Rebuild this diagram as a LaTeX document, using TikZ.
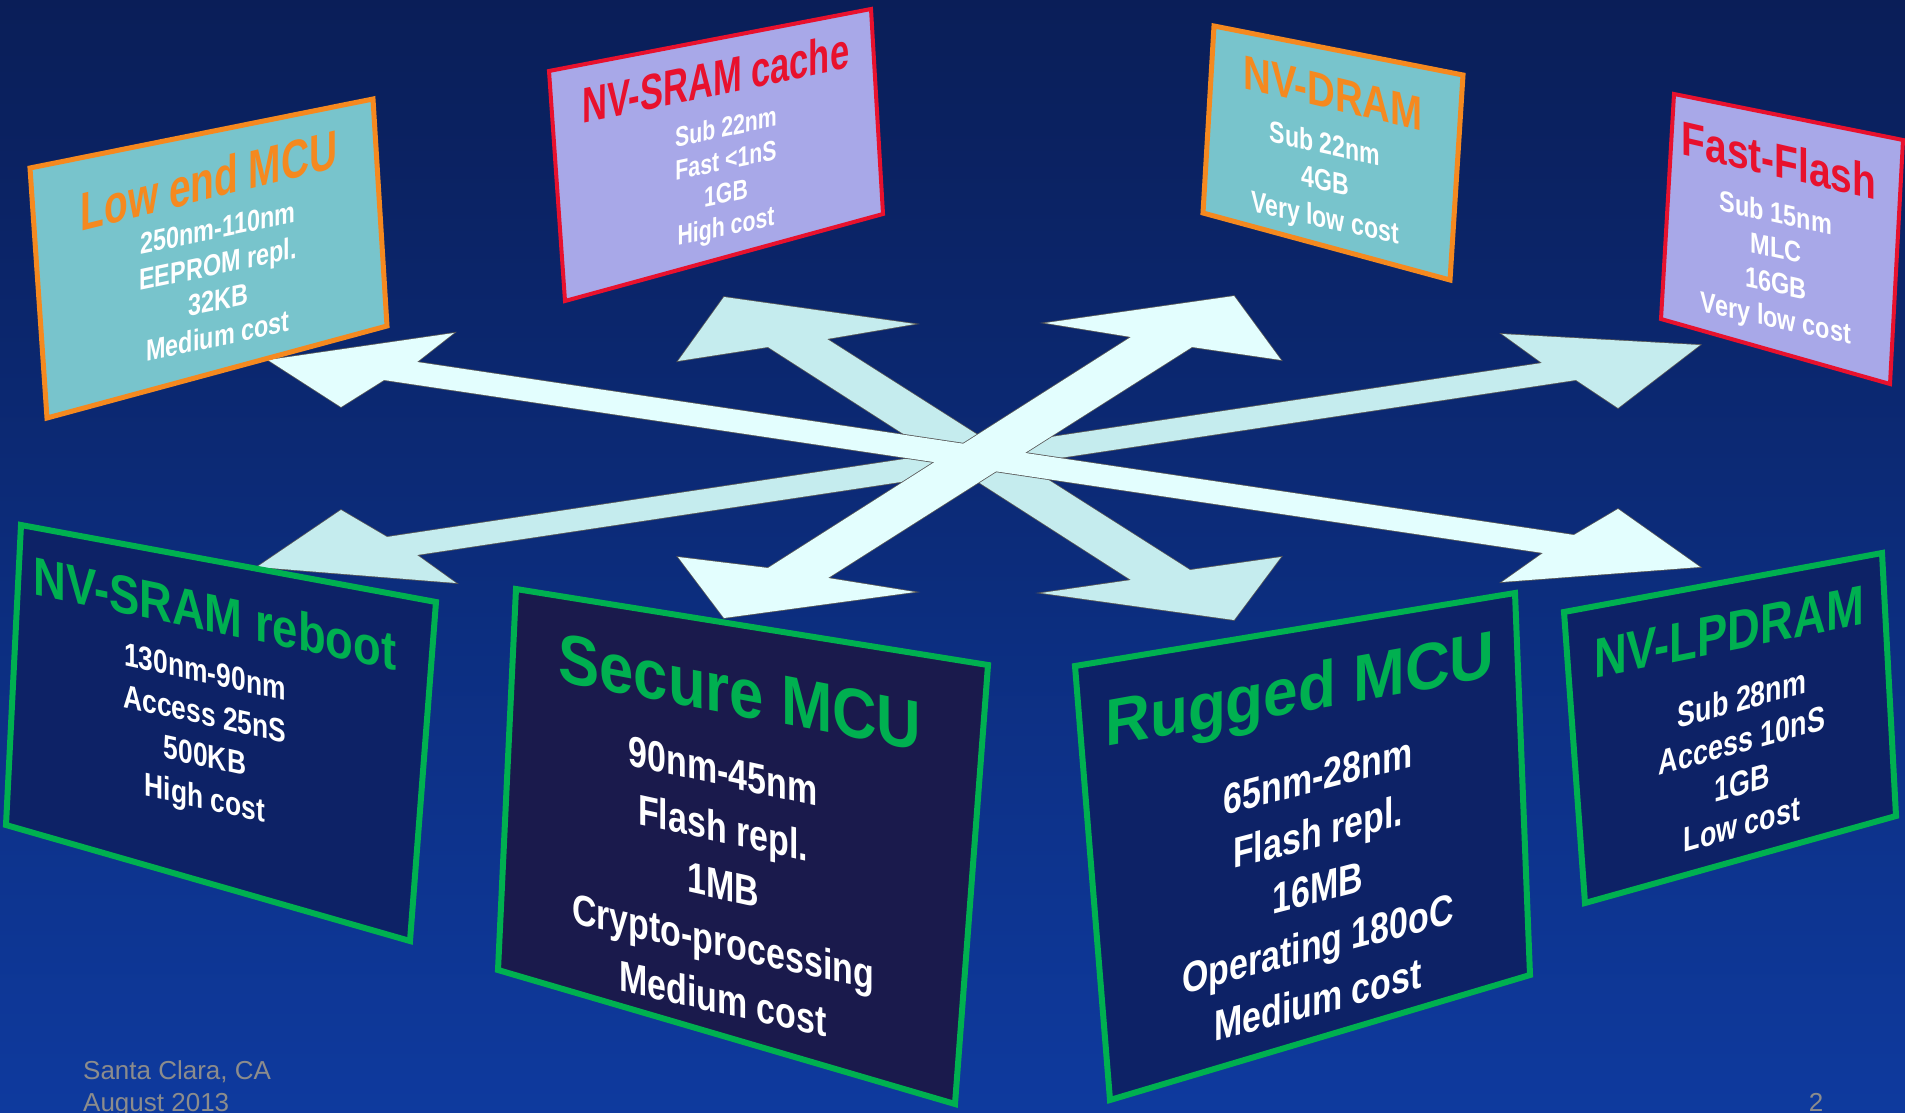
\documentclass[tikz,border=0pt]{standalone}
\usepackage{fontspec}
\setmainfont{Liberation Sans}
\definecolor{bgtop}{HTML}{0A1E58}
\definecolor{bgbot}{HTML}{0E3A9E}
\definecolor{tealf}{HTML}{78C4CC}
\definecolor{lavf}{HTML}{A8A8E8}
\definecolor{orng}{HTML}{F5891F}
\definecolor{redc}{HTML}{E8112D}
\definecolor{grn}{HTML}{00B050}
\definecolor{navyA}{HTML}{0D2266}
\definecolor{navyB}{HTML}{1A1A4C}
\definecolor{arrA}{HTML}{E3FEFE}
\definecolor{arrB}{HTML}{C5ECEE}
\definecolor{gry}{HTML}{8C8C8C}
% name, position, slant, xscale, style, text
\newcommand\sltxt[6]{%
  \node[#5,yslant=#3,xscale=#4] (#1) at (#2) {#6};}
\begin{document}
\begin{tikzpicture}[x=1pt,y=-1pt,line join=miter,
  ttl/.style 2 args={font=\fontsize{#1}{#1}\selectfont\bfseries,text=#2,inner sep=0pt,align=center},
  bdy/.style 2 args={font=\fontsize{#1}{#2}\selectfont\bfseries,text=white,inner sep=0pt,align=center},
  tealbox/.style={fill=tealf,draw=orng,line width=5pt},
  lavbox/.style={fill=lavf,draw=redc,line width=4pt},
  darkbox/.style={fill=#1,draw=grn,line width=6pt},
  arrline/.style={draw=black!65,line width=1.6pt},
  foot/.style={font=\fontsize{26}{31}\selectfont,text=gry,inner sep=0pt}]
\useasboundingbox (0,0) rectangle (1905,1113);
\shade[top color=bgtop,bottom color=bgbot] (0,0) rectangle (1905,1113);

% four double-headed arrows
\def\arrC{(724,297) -- (915,324) -- (827,339) -- (1190,570) -- (1281,557) -- (1234,620) -- (1041,593) -- (1131,580) -- (768,347) -- (678,361) -- cycle}
\def\arrD{(257,567) -- (341,510) -- (387,537) -- (1542,363) -- (1502,334) -- (1700,345) -- (1618,408) -- (1576,380) -- (417,555) -- (456,583) -- cycle}
\def\arrA{(268,360) -- (454,333) -- (417,362) -- (1574,535) -- (1618,509) -- (1700,567) -- (1502,582) -- (1543,553) -- (384,380) -- (341,407) -- cycle}
\def\arrB{(1234,296) -- (1281,360) -- (1192,347) -- (828,578) -- (915,592) -- (724,618) -- (678,557) -- (768,568) -- (1131,337) -- (1045,323) -- cycle}
\path[arrline] \arrC;
\path[arrline] \arrD;
\fill[arrB] \arrC;
\fill[arrB] \arrD;
\path[arrline] \arrA;
\path[arrline] \arrB;
\fill[arrA] \arrA;
\fill[arrA] \arrB;

% boxes
\draw[tealbox] (30,168) -- (373,99) -- (387,326) -- (47,418) -- cycle;
\draw[lavbox] (549,71) -- (871,9) -- (883,214) -- (565,301) -- cycle;
\draw[tealbox] (1214,26) -- (1463,75) -- (1450,280) -- (1203,213) -- cycle;
\draw[lavbox] (1674,94) -- (1903,140) -- (1890,384) -- (1661,319) -- cycle;
\draw[darkbox=navyA] (21,525) -- (436,602) -- (410,941) -- (6,825) -- cycle;
\draw[darkbox=navyB] (516,589) -- (988,665) -- (955,1104) -- (498,970) -- cycle;
\draw[darkbox=navyA] (1075,666) -- (1515,593) -- (1530,975) -- (1110,1100) -- cycle;
\draw[darkbox=navyA] (1564,612) -- (1882,553) -- (1896,816) -- (1585,903) -- cycle;

% texts
\sltxt{t1}{209,180}{0.25}{0.72}{ttl={54}{orng}}{Low end MCU}
\sltxt{b1}{218,282}{0.21}{0.78}{bdy={30}{36}}{250nm-110nm\\EEPROM repl.\\32KB\\Medium cost}
\sltxt{t2}{716,78}{0.21}{0.69}{ttl={50}{redc}}{NV-SRAM cache}
\sltxt{b2}{726,179}{0.21}{0.76}{bdy={28}{33}}{Sub 22nm\\Fast <1nS\\1GB\\High cost}
\sltxt{t3}{1333,93}{-0.24}{0.80}{ttl={48}{orng}}{NV-DRAM}
\sltxt{b3}{1325,183}{-0.22}{0.77}{bdy={30}{37}}{Sub 22nm\\4GB\\Very low cost}
\sltxt{t4}{1779,160}{-0.23}{0.81}{ttl={48}{redc}}{Fast-Flash}
\sltxt{b4}{1776,268}{-0.22}{0.81}{bdy={29}{35}}{Sub 15nm\\MLC\\16GB\\Very low cost}
\sltxt{t5}{215,613}{-0.21}{0.84}{ttl={54}{grn}}{NV-SRAM reboot}
\sltxt{b5}{205,738}{-0.22}{0.80}{bdy={33}{42}}{130nm-90nm\\Access 25nS\\500KB\\High cost}
\sltxt{t6}{740,692}{-0.19}{0.88}{ttl={70}{grn}}{Secure MCU}
\sltxt{b6}{723,885}{-0.22}{0.79}{bdy={43}{57}}{90nm-45nm\\Flash repl.\\1MB\\Crypto-processing\\Medium cost}
\sltxt{t7}{1300,695}{0.18}{0.94}{ttl={66}{grn}}{Rugged MCU}
\sltxt{b7}{1318,888}{0.26}{0.79}{bdy={43}{56}}{65nm-28nm\\Flash repl.\\16MB\\Operating 180oC\\Medium cost}
\sltxt{t8}{1729,632}{0.20}{0.81}{ttl={56}{grn}}{NV-LPDRAM}
\sltxt{b8}{1742,761}{0.28}{0.77}{bdy={35}{42}}{Sub 28nm\\Access 10nS\\1GB\\Low cost}

% footer
\node[foot,anchor=base west] (loc) at (83,1079) {Santa Clara, CA};
\node[foot,anchor=base west] (date) at (83,1111) {August 2013};
\node[foot,anchor=base] (page) at (1816,1111) {2};
\end{tikzpicture}
\end{document}
